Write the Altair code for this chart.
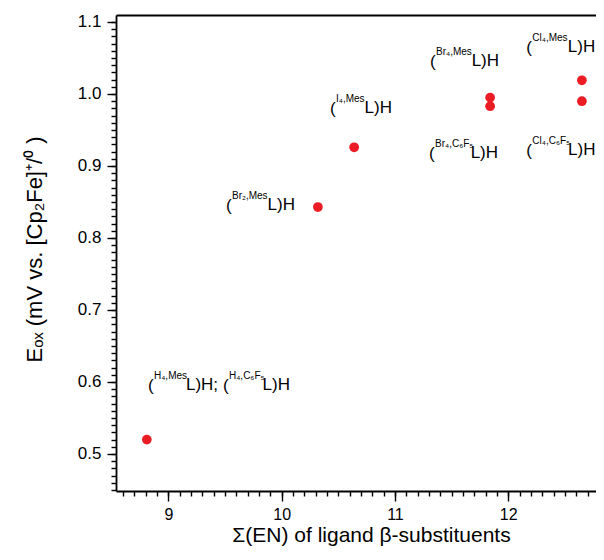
import altair as alt
import pandas as pd
import numpy as np

# ---- data ----
en_sum = [8.81, 10.32, 10.64, 11.84, 11.84, 12.65, 12.65]
e_ox = [0.520, 0.843, 0.926, 0.995, 0.983, 1.019, 0.990]

label_sup = ["H₄,Mes", "H₄,C₆F₅", "Br₂,Mes", "I₄,Mes", "Br₄,Mes", "Cl₄,Mes", "Br₄,C₆F₅", "Cl₄,C₆F₅"]
label_main = ["L)H;", "L)H", "L)H", "L)H", "L)H", "L)H", "L)H", "L)H"]
label_left = [8.821, 9.483, 9.509, 10.427, 11.310, 12.160, 11.301, 12.160]
label_right = [9.439, 10.074, 10.118, 10.974, 11.919, 12.768, 11.910, 12.770]
label_y = [0.589, 0.589, 0.839, 0.974, 1.039, 1.058, 0.911, 0.915]

x_major = [9, 10, 11, 12]
y_major = [0.5, 0.6, 0.7, 0.8, 0.9, 1.0, 1.1]

W, H = 480, 476
X_DOMAIN = [8.538, 8.538 + W / 113.3]
Y_DOMAIN = [0.4486, 1.1097]
FONT = "Liberation Sans"
RED = "#ec1c24"

x_minor = [round(v, 2) for v in np.arange(8.6, X_DOMAIN[1], 0.1)]
y_minor = [round(v, 3) for v in np.arange(0.45, 1.1051, 0.01)]

pts = pd.DataFrame({"x": en_sum, "y": e_ox})
px_per_unit = W / (X_DOMAIN[1] - X_DOMAIN[0])
lab = pd.DataFrame({
    "left": label_left,
    "supx": [v + 6.0 / px_per_unit for v in label_left],
    "right": label_right,
    "y": label_y,
    "sup": label_sup,
    "main": label_main,
})

xscale = alt.Scale(domain=X_DOMAIN, nice=False, zero=False)
yscale = alt.Scale(domain=Y_DOMAIN, nice=False, zero=False)

x_axis = alt.Axis(
    orient="bottom", values=x_major, tickSize=10, format="d",
    labelPadding=5, labelFontSize=16, labelOverlap=False, labelFlush=False, grid=False,
    title="Σ(EN) of ligand β-substituents", titlePadding=2, titleFontSize=21, titleX=255,
)
y_axis = alt.Axis(
    orient="left", values=y_major, tickSize=9, format=".1f",
    labelPadding=6, labelOverlap=False, labelFlush=False, grid=False,
    title="Eₒₓ (mV vs. [Cp₂Fe]⁺/⁰ )", titlePadding=31, titleY=234,
)

minor = alt.Chart(pts).mark_point(opacity=0).encode(
    x=alt.X("x:Q", scale=xscale,
            axis=alt.Axis(orient="bottom", values=x_minor, tickSize=5, labels=False,
                          domain=False, title="", grid=False)),
    y=alt.Y("y:Q", scale=yscale,
            axis=alt.Axis(orient="left", values=y_minor, tickSize=5, labels=False,
                          domain=False, title="", grid=False)),
)

top = alt.Chart(pts).mark_point(opacity=0).encode(
    x=alt.X("x:Q", scale=xscale,
            axis=alt.Axis(orient="top", labels=False, ticks=False, title="", grid=False)),
    y=alt.Y("y:Q", scale=yscale, axis=None),
)

points = alt.Chart(pts).mark_circle(size=95, color=RED, opacity=1).encode(
    x=alt.X("x:Q", scale=xscale, axis=x_axis),
    y=alt.Y("y:Q", scale=yscale, axis=y_axis),
)

paren = alt.Chart(lab).mark_text(text="(", align="left", baseline="alphabetic",
                                 fontSize=17, font=FONT, color="black", dy=1).encode(
    x=alt.X("left:Q", scale=xscale, axis=None),
    y=alt.Y("y:Q", scale=yscale, axis=None),
)
sup = alt.Chart(lab).mark_text(align="left", baseline="alphabetic",
                               fontSize=10, font=FONT, color="black", dy=-11).encode(
    x=alt.X("supx:Q", scale=xscale, axis=None),
    y=alt.Y("y:Q", scale=yscale, axis=None),
    text="sup:N",
)
main = alt.Chart(lab).mark_text(align="right", baseline="alphabetic",
                                fontSize=17, font=FONT, color="black").encode(
    x=alt.X("right:Q", scale=xscale, axis=None),
    y=alt.Y("y:Q", scale=yscale, axis=None),
    text="main:N",
)

chart = alt.layer(minor, top, points, paren, sup, main).resolve_axis(
    x="independent", y="independent"
).properties(
    width=W, height=H,
    autosize=alt.AutoSizeParams(type="none"),
    padding={"left": 108, "top": 7, "right": 0, "bottom": 57},
).configure_view(stroke=None).configure_axis(
    labelFont=FONT, titleFont=FONT, labelFontSize=17, titleFontSize=22,
    titleFontWeight="normal", labelColor="black", titleColor="black",
    domainColor="black", tickColor="black", domainWidth=1.8, tickWidth=1.4,
)

chart.save("out.html", embed_options={"renderer": "svg", "actions": False})
